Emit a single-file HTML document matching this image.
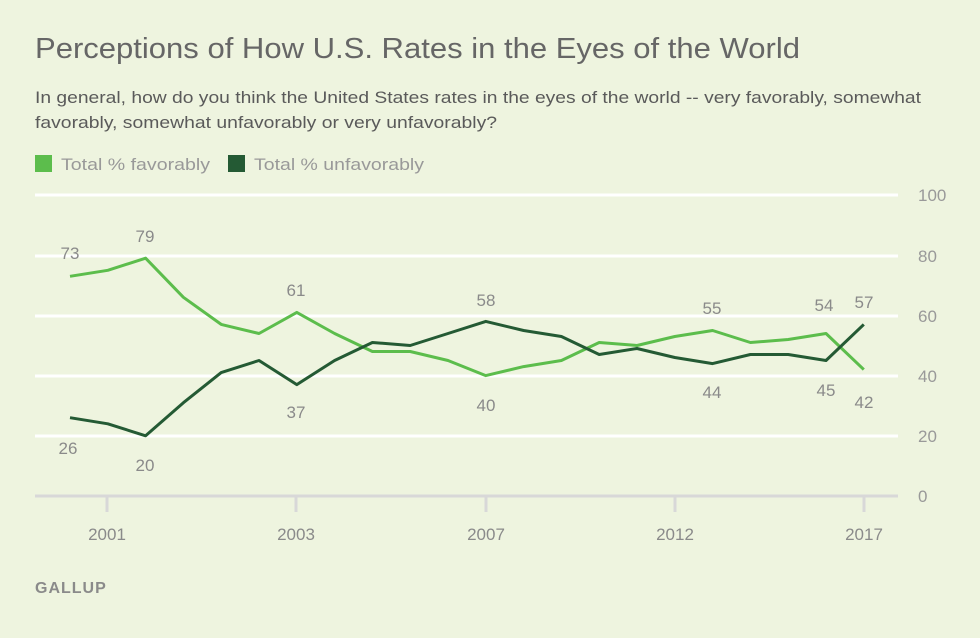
<!DOCTYPE html><html><head><meta charset="utf-8"><style>body{margin:0;background:#eef4df;}svg{display:block;font-family:"Liberation Sans",Arial,sans-serif}</style></head><body>
<svg width="980" height="638" viewBox="0 0 980 638">
<rect width="980" height="638" fill="#eef4df"/>
<text x="35" y="58" font-size="29" fill="#666" textLength="765" lengthAdjust="spacingAndGlyphs">Perceptions of How U.S. Rates in the Eyes of the World</text>
<text x="35" y="103" font-size="17" fill="#5a5a5a" textLength="886" lengthAdjust="spacingAndGlyphs">In general, how do you think the United States rates in the eyes of the world -- very favorably, somewhat</text>
<text x="35" y="128" font-size="17" fill="#5a5a5a" textLength="462" lengthAdjust="spacingAndGlyphs">favorably, somewhat unfavorably or very unfavorably?</text>
<rect x="35" y="155" width="17" height="17" fill="#5cbd4c"/>
<text x="61" y="170" font-size="17" fill="#999" textLength="149" lengthAdjust="spacingAndGlyphs">Total % favorably</text>
<rect x="228" y="155" width="17" height="17" fill="#245a34"/>
<text x="254" y="170" font-size="17" fill="#999" textLength="170" lengthAdjust="spacingAndGlyphs">Total % unfavorably</text>
<g stroke="#fff" stroke-width="3">
<line x1="35" y1="195" x2="898" y2="195"/><line x1="35" y1="256" x2="898" y2="256"/><line x1="35" y1="316" x2="898" y2="316"/><line x1="35" y1="376" x2="898" y2="376"/><line x1="35" y1="436" x2="898" y2="436"/></g>
<line x1="35" y1="496" x2="898" y2="496" stroke="#d8d8d8" stroke-width="3"/>
<g stroke="#d8d8d8" stroke-width="3"><line x1="107" y1="496" x2="107" y2="512"/><line x1="296" y1="496" x2="296" y2="512"/><line x1="486" y1="496" x2="486" y2="512"/><line x1="675" y1="496" x2="675" y2="512"/><line x1="864" y1="496" x2="864" y2="512"/></g>
<g font-size="17" fill="#999" text-anchor="start"><text x="918" y="201">100</text><text x="918" y="262">80</text><text x="918" y="322">60</text><text x="918" y="382">40</text><text x="918" y="442">20</text><text x="918" y="502">0</text></g>
<g font-size="17" fill="#8a8a8a" text-anchor="middle"><text x="107" y="540">2001</text><text x="296" y="540">2003</text><text x="486" y="540">2007</text><text x="675" y="540">2012</text><text x="864" y="540">2017</text></g>
<polyline fill="none" stroke="#5cbd4c" stroke-width="3" stroke-linejoin="round" points="70,276.3 107.8,270.3 145.6,258.2 183.4,297.3 221.2,324.4 259,333.5 296.8,312.4 334.6,333.5 372.4,351.5 410.2,351.5 448,360.5 485.8,375.6 523.6,366.6 561.4,360.5 599.2,342.5 637,345.5 674.8,336.5 712.6,330.5 750.4,342.5 788.2,339.5 826,333.5 863.8,369.6"/>
<polyline fill="none" stroke="#245a34" stroke-width="3" stroke-linejoin="round" points="70,417.7 107.8,423.8 145.6,435.8 183.4,402.7 221.2,372.6 259,360.5 296.8,384.6 334.6,360.5 372.4,342.5 410.2,345.5 448,333.5 485.8,321.4 523.6,330.5 561.4,336.5 599.2,354.5 637,348.5 674.8,357.5 712.6,363.6 750.4,354.5 788.2,354.5 826,360.5 863.8,324.4"/>
<g font-size="17" fill="#8a8a8a" text-anchor="middle">
<text x="70" y="259">73</text><text x="145" y="242">79</text><text x="296" y="296">61</text><text x="486" y="306">58</text><text x="712" y="314">55</text><text x="824" y="311">54</text><text x="864" y="308">57</text>
<text x="68" y="454">26</text><text x="145" y="471">20</text><text x="296" y="418">37</text><text x="486" y="411">40</text><text x="712" y="398">44</text><text x="826" y="396">45</text><text x="864" y="408">42</text></g>
<text x="35" y="593" font-size="16" font-weight="bold" fill="#8a8a8a" letter-spacing="1">GALLUP</text>
</svg></body></html>
